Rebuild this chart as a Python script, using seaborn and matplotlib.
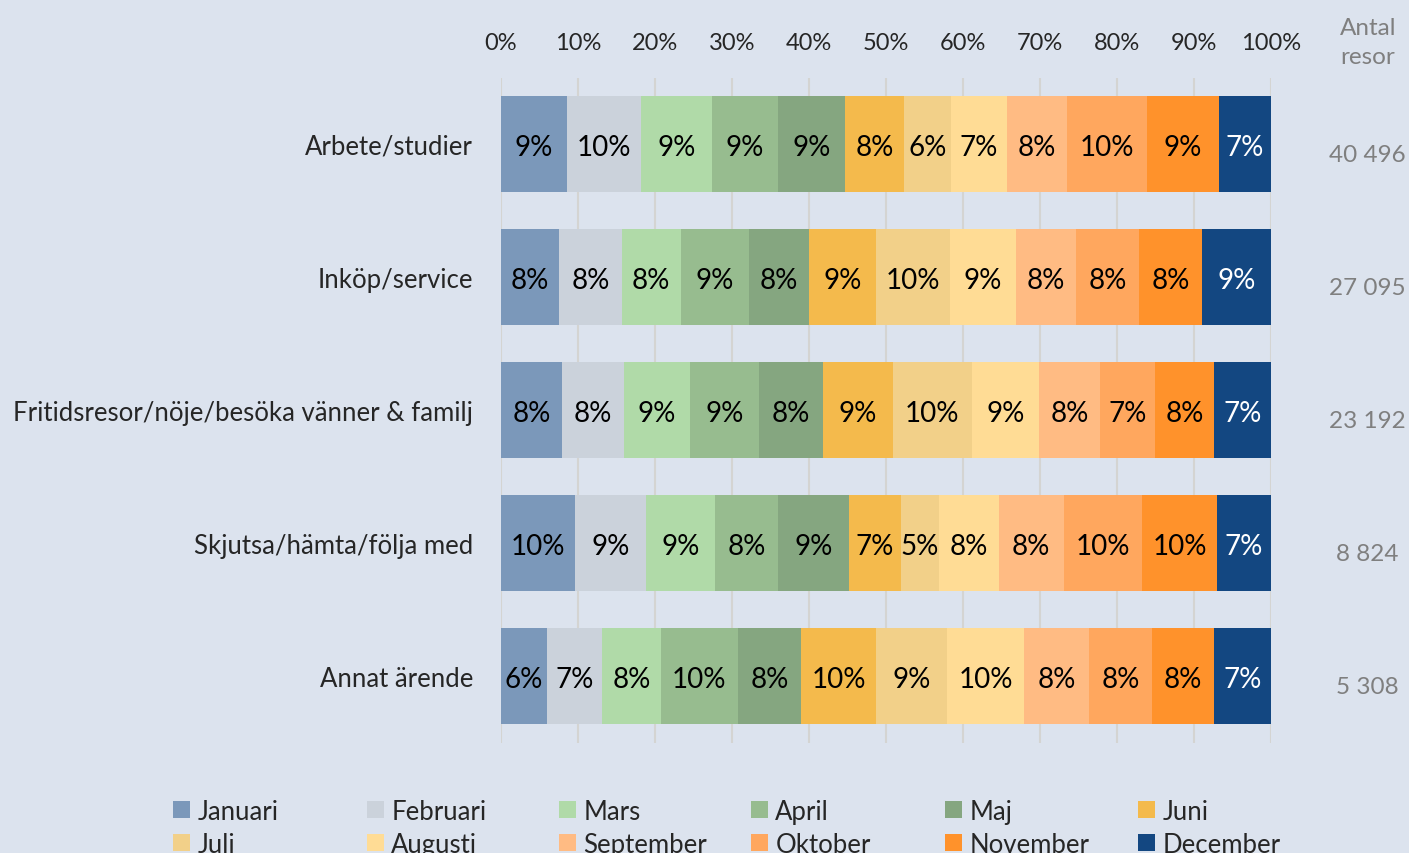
import numpy as np
import pandas as pd
import seaborn as sns
import matplotlib.pyplot as plt
import matplotlib.transforms as mtransforms
from matplotlib.patches import Patch

# data
categories = ["Arbete/studier", "Inköp/service",
              "Fritidsresor/nöje/besöka vänner & familj",
              "Skjutsa/hämta/följa med", "Annat ärende"]
months = ["Januari", "Februari", "Mars", "April", "Maj", "Juni",
          "Juli", "Augusti", "September", "Oktober", "November", "December"]
arbete = [8.6, 9.6, 9.2, 8.7, 8.7, 7.7, 6.0, 7.3, 7.9, 10.4, 9.3, 6.8]
inkop = [7.6, 8.1, 7.7, 8.9, 7.8, 8.7, 9.7, 8.6, 7.8, 8.2, 8.2, 9.0]
fritid = [7.9, 8.0, 8.6, 8.9, 8.3, 9.1, 10.2, 8.7, 8.0, 7.1, 7.6, 7.4]
skjutsa = [9.6, 9.2, 9.0, 8.2, 9.1, 6.8, 4.9, 7.8, 8.4, 10.2, 9.7, 7.0]
annat = [6.0, 7.1, 7.6, 10.0, 8.2, 9.7, 9.2, 10.0, 8.4, 8.2, 8.0, 7.4]
antal_resor = ["40 496", "27 095", "23 192", "8 824", "5 308"]

colors = ["#7B98BA", "#CBD2DB", "#B0DAA8", "#97BC8F", "#85A680", "#F4BA4C",
          "#F2D089", "#FFDC95", "#FFBB83", "#FFA75E", "#FF922B", "#134781"]

bg = "#DCE3EE"

shares = np.array([arbete, inkop, fritid, skjutsa, annat])
shares = shares / shares.sum(axis=1, keepdims=True) * 100
cum = shares.cumsum(axis=1)

rows = []
for i, c in enumerate(categories):
    for j, m in enumerate(months):
        rows.append({"cat": c, "month": m, "share": shares[i, j], "cum": cum[i, j]})
df = pd.DataFrame(rows)

sns.set_style("white")
plt.rcParams["font.family"] = ["Lato", "DejaVu Sans"]

fig = plt.figure(figsize=(14.09, 8.54), dpi=100, facecolor=bg)
ax = fig.add_axes([501 / 1409, 1 - 743.5 / 854, 770 / 1409, 665 / 854])
ax.set_facecolor(bg)

# stacked bars: draw cumulative totals from the last month backwards
for j in range(len(months) - 1, -1, -1):
    sub = df[df["month"] == months[j]]
    sns.barplot(data=sub, x="cum", y="cat", order=categories, orient="h",
                color=colors[j], width=0.72, saturation=1, linewidth=0,
                ax=ax, zorder=2)

for i in range(len(categories)):
    for j in range(len(months)):
        v = shares[i, j]
        xc = cum[i, j] - v / 2
        ax.text(xc, i + 0.02, f"{v:.0f}%", ha="center", va="center", fontsize=20,
                color="white" if j == 11 else "black", zorder=3)

ax.set_xlim(0, 100)
ax.set_ylim(4.5, -0.5)
ax.set_xticks(np.arange(0, 101, 10))
ax.set_xticklabels([f"{t}%" for t in range(0, 101, 10)], fontsize=17)
ax.xaxis.tick_top()
ax.tick_params(axis="x", length=0, pad=18)
ax.tick_params(axis="y", length=0, pad=20, labelsize=18.5)
ax.set_xlabel("")
ax.set_ylabel("")
ax.grid(axis="x", color="#D4D4D2", linewidth=1.5, zorder=0)
ax.set_axisbelow(True)
for s in ax.spines.values():
    s.set_visible(False)

trans = mtransforms.blended_transform_factory(ax.transAxes, ax.transData)
for i, n in enumerate(antal_resor):
    ax.text(1.1247, i + 0.08, n, transform=trans, ha="center", va="center",
            fontsize=17.5, color="#7F7F7F")
fig.text(1368 / 1409, 1 - 43 / 854, "Antal\nresor", ha="center", va="center",
         fontsize=17.5, color="#7F7F7F", linespacing=1.45)

# legend: six columns of two entries each
handles = [Patch(facecolor=c, edgecolor="none") for c in colors]
col_x = [160, 354, 546, 738, 932, 1125]
for k in range(6):
    fig.legend(handles=[handles[k], handles[k + 6]], labels=[months[k], months[k + 6]],
               loc="upper left", bbox_to_anchor=(col_x[k] / 1409, 1 - 787 / 854),
               frameon=False, fontsize=18.5, handlelength=0.65, handleheight=0.65,
               handletextpad=0.3, labelspacing=0.3, borderpad=0)

fig.savefig("out.png", dpi=100, facecolor=bg)
